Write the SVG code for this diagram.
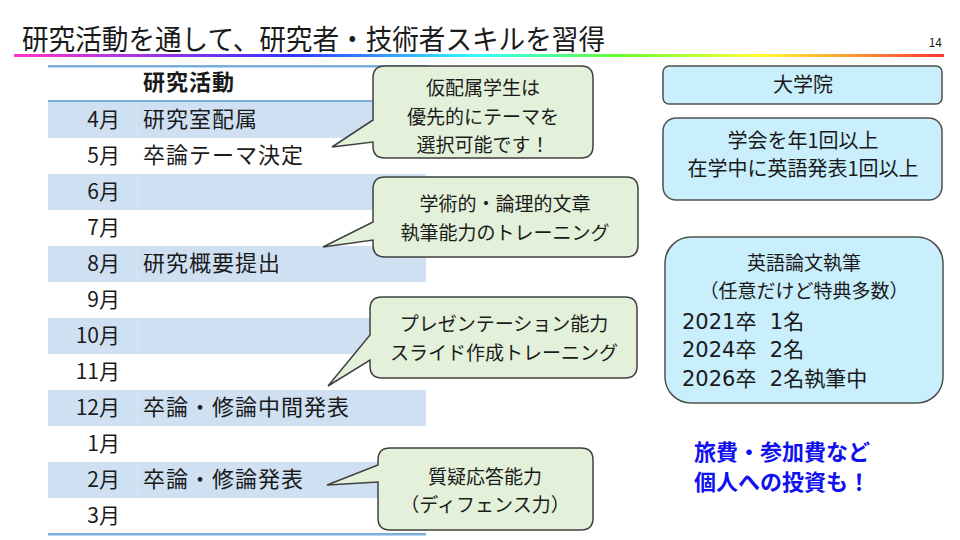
<svg xmlns="http://www.w3.org/2000/svg" width="960" height="540" viewBox="0 0 960 540">
<defs>
<linearGradient id="rainbow" x1="14" y1="0" x2="944" y2="0" gradientUnits="userSpaceOnUse">
<stop offset="0" stop-color="#ff33cc"/>
<stop offset="0.3" stop-color="#3333ff"/>
<stop offset="0.5" stop-color="#33ffff"/>
<stop offset="0.65" stop-color="#66ff33"/>
<stop offset="0.8" stop-color="#ffff33"/>
<stop offset="0.9" stop-color="#ff9933"/>
<stop offset="1" stop-color="#ff3333"/>
</linearGradient>
<style>
text{font-family:"Noto Sans CJK JP","Noto Sans",sans-serif;fill:#1a1a1a;}
.band{fill:#cfe0f2;}
.mon{font-size:21px;text-anchor:end;}
.act{font-size:22px;letter-spacing:1px;}
.call{fill:#e3f0da;stroke:#404040;stroke-width:1.5;}
.ct{font-size:19px;text-anchor:middle;}
.box{fill:#c9eefc;stroke:#505050;stroke-width:1.5;}
.bt{font-size:20px;text-anchor:middle;}
.bh{font-size:19px;text-anchor:middle;}
.bl{font-size:21px;font-family:"DejaVu Sans","Noto Sans CJK JP",sans-serif;}
.blue{font-size:22px;font-weight:bold;fill:#1010f0;text-anchor:middle;}
</style>
</defs>
<rect width="960" height="540" fill="#ffffff"/>
<g id="title">
<text x="22" y="50" font-size="28" textLength="583" lengthAdjust="spacingAndGlyphs">研究活動を通して、研究者・技術者スキルを習得</text>
<rect x="14" y="54" width="930" height="3" fill="url(#rainbow)"/>
<text x="942" y="47" font-size="12" text-anchor="end">14</text>
</g>
<g id="table">
<rect x="48" y="65" width="378" height="2.5" fill="#7badde"/>
<text x="143" y="90" font-size="22" font-weight="bold" letter-spacing="1">研究活動</text>
<rect x="48" y="100" width="378" height="2.5" fill="#7badde"/>
<rect class="band" x="48" y="102" width="378" height="36"/>
<rect class="band" x="48" y="174" width="378" height="36"/>
<rect class="band" x="48" y="246" width="378" height="36"/>
<rect class="band" x="48" y="318" width="378" height="36"/>
<rect class="band" x="48" y="390" width="378" height="36"/>
<rect class="band" x="48" y="462" width="378" height="36"/>
<g stroke="#d8e6f5" stroke-width="1">
<line x1="137" y1="102" x2="137" y2="138"/>
<line x1="137" y1="174" x2="137" y2="210"/>
<line x1="137" y1="246" x2="137" y2="282"/>
<line x1="137" y1="318" x2="137" y2="354"/>
<line x1="137" y1="390" x2="137" y2="426"/>
<line x1="137" y1="462" x2="137" y2="498"/>
</g>
<rect x="48" y="533" width="378" height="2.5" fill="#7badde"/>
<text class="mon" x="120" y="127">4月</text>
<text class="mon" x="120" y="163">5月</text>
<text class="mon" x="120" y="199">6月</text>
<text class="mon" x="120" y="235">7月</text>
<text class="mon" x="120" y="271">8月</text>
<text class="mon" x="120" y="307">9月</text>
<text class="mon" x="120" y="343">10月</text>
<text class="mon" x="120" y="379">11月</text>
<text class="mon" x="120" y="415">12月</text>
<text class="mon" x="120" y="451">1月</text>
<text class="mon" x="120" y="487">2月</text>
<text class="mon" x="120" y="523">3月</text>
<text class="act" x="143" y="127">研究室配属</text>
<text class="act" x="143" y="163">卒論テーマ決定</text>
<text class="act" x="143" y="271">研究概要提出</text>
<text class="act" x="143" y="415">卒論・修論中間発表</text>
<text class="act" x="143" y="487">卒論・修論発表</text>
</g>
<g id="callout1">
<path class="call" d="M385,66 H581 Q593,66 593,78 V146 Q593,158 581,158 H385 Q373,158 373,146 V142 L332,147 L373,120 V78 Q373,66 385,66 Z"/>
<text class="ct" x="483" y="95">仮配属学生は</text>
<text class="ct" x="483" y="124">優先的にテーマを</text>
<text class="ct" x="483" y="152">選択可能です！</text>
</g>
<g id="callout2">
<path class="call" d="M385,177 H626 Q638,177 638,189 V245 Q638,257 626,257 H385 Q373,257 373,245 V240 L323,247 L373,222 V189 Q373,177 385,177 Z"/>
<text class="ct" x="505" y="211">学術的・論理的文章</text>
<text class="ct" x="505" y="240">執筆能力のトレーニング</text>
</g>
<g id="callout3">
<path class="call" d="M382,297 H625 Q637,297 637,309 V366 Q637,378 625,378 H382 Q370,378 370,366 V360 L328,386 L370,335 V309 Q370,297 382,297 Z"/>
<text class="ct" x="504" y="331">プレゼンテーション能力</text>
<text class="ct" x="504" y="360">スライド作成トレーニング</text>
</g>
<g id="callout4">
<path class="call" d="M390,448 H581 Q593,448 593,460 V518 Q593,530 581,530 H390 Q378,530 378,518 V482 L327,485 L378,465 V460 Q378,448 390,448 Z"/>
<text class="ct" x="485" y="484">質疑応答能力</text>
<text class="ct" x="485" y="512">（ディフェンス力）</text>
</g>
<g id="box1">
<rect class="box" x="663" y="66" width="279" height="38" rx="6"/>
<text class="bt" x="803" y="92">大学院</text>
</g>
<g id="box2">
<rect class="box" x="663" y="118" width="279" height="82" rx="13"/>
<text class="bt" x="803" y="148">学会を年1回以上</text>
<text class="bt" x="803" y="176">在学中に英語発表1回以上</text>
</g>
<g id="box3">
<rect class="box" x="665" y="237" width="278" height="166" rx="26"/>
<text class="bh" x="804" y="270">英語論文執筆</text>
<text class="bh" x="804" y="298">（任意だけど特典多数）</text>
<text class="bl" x="682" y="329" xml:space="preserve">2021卒  1名</text>
<text class="bl" x="682" y="357" xml:space="preserve">2024卒  2名</text>
<text class="bl" x="682" y="386" xml:space="preserve">2026卒  2名執筆中</text>
</g>
<g id="note">
<text class="blue" x="782" y="460">旅費・参加費など</text>
<text class="blue" x="782" y="490">個人への投資も！</text>
</g>
<g id="connectors"></g>
</svg>
